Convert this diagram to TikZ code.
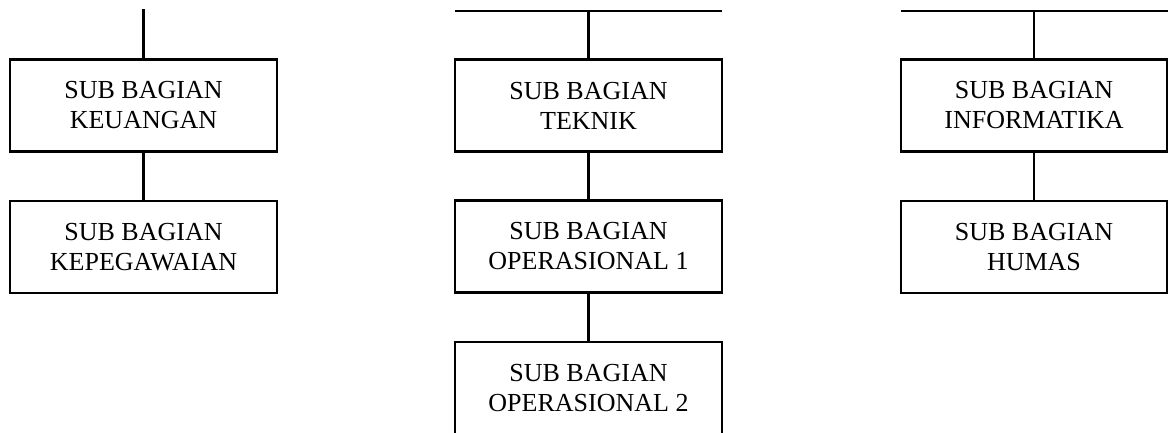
\documentclass[tikz,border=0pt]{standalone}
\usepackage{fontspec}
\setmainfont{Liberation Serif}
\begin{document}
\begin{tikzpicture}[x=1pt,y=-1pt,
  unit/.style={draw, line width=2.8pt, minimum width=267pt, minimum height=92pt,
    inner sep=0pt, align=center, font=\fontsize{26}{30}\selectfont},
  link/.style={line width=2.1pt}]
\useasboundingbox (0,0) rectangle (1168,432);
\clip (0,0) rectangle (1168,432);

% left column
\node[unit] (keu) at (143.5,105.5) {SUB BAGIAN\\KEUANGAN};
\node[unit] (peg) at (143.5,247) {SUB BAGIAN\\KEPEGAWAIAN};
\coordinate (ltop) at (143.5,9);

% middle column
\node[unit] (tek) at (588.5,105.5) {SUB BAGIAN\\TEKNIK};
\node[unit] (op1) at (588.5,246.5) {SUB BAGIAN\\OPERASIONAL 1};
\node[unit] (op2) at (588.5,388) {SUB BAGIAN\\OPERASIONAL 2};
\coordinate (mtop) at (588.5,10.7);
\coordinate (mleft) at (455,10.7);
\coordinate (mright) at (722,10.7);

% right column
\node[unit, minimum width=266pt] (inf) at (1034,105.5) {SUB BAGIAN\\INFORMATIKA};
\node[unit, minimum width=266pt] (hum) at (1034,247) {SUB BAGIAN\\HUMAS};
\coordinate (rtop) at (1034,10.7);
\coordinate (rleft) at (901,10.7);
\coordinate (rright) at (1170,10.7);

% connectors
\draw[link] (ltop) -- (keu.north);
\draw[link] (keu.south) -- (peg.north);
\draw[link] (mleft) -- (mright);
\draw[link] (mtop) -- (tek.north);
\draw[link] (tek.south) -- (op1.north);
\draw[link] (op1.south) -- (op2.north);
\draw[link] (rleft) -- (rright);
\draw[link] (rtop) -- (inf.north);
\draw[link] (inf.south) -- (hum.north);
\end{tikzpicture}
\end{document}
